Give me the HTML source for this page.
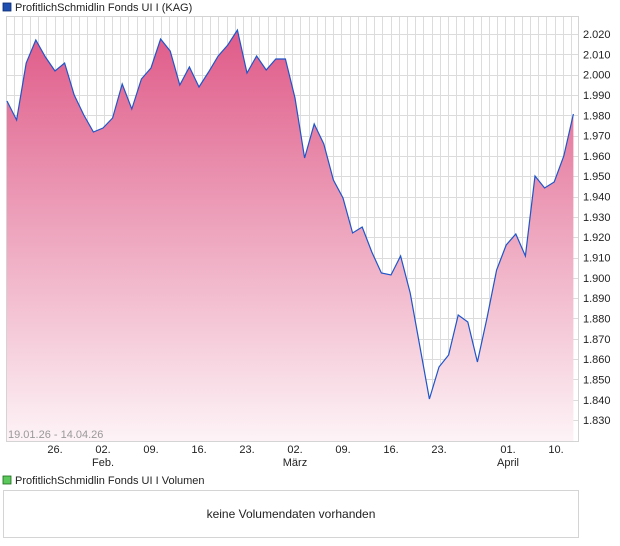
<!DOCTYPE html>
<html><head><meta charset="utf-8"><style>
body{margin:0;background:#fff;font-family:"Liberation Sans",sans-serif;}
</style></head><body>
<svg width="620" height="546" xmlns="http://www.w3.org/2000/svg" style="display:block">
<defs>
<linearGradient id="g" x1="0" y1="0" x2="0" y2="1" gradientUnits="userSpaceOnUse" x1a="0">
</linearGradient>
<linearGradient id="f" gradientUnits="userSpaceOnUse" x1="0" y1="30" x2="0" y2="441">
<stop offset="0" stop-color="#df5a88"/>
<stop offset="1" stop-color="#fdf3f6"/>
</linearGradient>
</defs>
<rect x="3" y="3" width="8" height="8" fill="#1f4fb0" stroke="#0a2a70" stroke-width="0.8"/>
<text x="15" y="11" font-size="11" fill="#222">ProfitlichSchmidlin Fonds UI I (KAG)</text>
<rect x="6.5" y="16.5" width="572" height="425" fill="#fff" stroke="#d4d4d4"/>
<g stroke="#dcdcdc" stroke-width="1" id="grid"></g>
<path id="area" fill="url(#f)"/>
<path id="line" fill="none" stroke="#1f55c8" stroke-width="1.2"/>
<g font-size="11" fill="#222" id="ylab"></g>
<text x="8" y="438" font-size="11" fill="#999">19.01.26 - 14.04.26</text>
<g font-size="11" fill="#222" text-anchor="middle">
<text x="55" y="453">26.</text><text x="103" y="453">02.</text><text x="103" y="466">Feb.</text>
<text x="151" y="453">09.</text><text x="199" y="453">16.</text><text x="247" y="453">23.</text>
<text x="295" y="453">02.</text><text x="295" y="466">März</text>
<text x="343" y="453">09.</text><text x="391" y="453">16.</text><text x="439" y="453">23.</text>
<text x="508" y="453">01.</text><text x="508" y="466">April</text><text x="556" y="453">10.</text>
</g>
<rect x="3" y="476" width="8" height="8" fill="#5ac85a" stroke="#1a6a1a" stroke-width="0.8"/>
<text x="15" y="484" font-size="11" fill="#222">ProfitlichSchmidlin Fonds UI I Volumen</text>
<rect x="3.5" y="490.5" width="575" height="47" fill="#fff" stroke="#d4d4d4"/>
<text x="291" y="518" font-size="12" fill="#222" text-anchor="middle">keine Volumendaten vorhanden</text>
</svg>
<script>
var ys=[101,120,63,40,57,71,63,95,115,132,128,118,84,109,79,68,39,51,85,67,87,72,56,45,30,73,56,70,59,59,98,158,124,144,180,198,233,227,252,273,275,256,293,346,399,367,355,315,322,362,318,270,245,234,256,176,188,182,156,114];
var ns="http://www.w3.org/2000/svg";
var g=document.getElementById('grid');
function ln(x1,y1,x2,y2){var l=document.createElementNS(ns,'line');l.setAttribute('x1',x1);l.setAttribute('y1',y1);l.setAttribute('x2',x2);l.setAttribute('y2',y2);g.appendChild(l);}
for(var x=13.5;x<578;x+=8.2)ln(Math.round(x)+.5,17,Math.round(x)+.5,441);
var yl=document.getElementById('ylab');
for(var i=0;i<=19;i++){var v=2.02-i*0.01;var y=34+i*20.32;ln(7,Math.round(y)+.5,578,Math.round(y)+.5);
var t=document.createElementNS(ns,'text');t.setAttribute('x',583);t.setAttribute('y',y+4);t.textContent=v.toFixed(3).replace('.','.');
var s=v.toFixed(3);t.textContent=s[0]+'.'+s.slice(2);yl.appendChild(t);}
var d='';for(var i=0;i<ys.length;i++){d+=(i?'L':'M')+(7+i*9.6).toFixed(1)+','+ys[i];}
document.getElementById('line').setAttribute('d',d);
document.getElementById('area').setAttribute('d',d+'L'+(7+59*9.6).toFixed(1)+',441L7,441Z');
</script>
</body></html>
